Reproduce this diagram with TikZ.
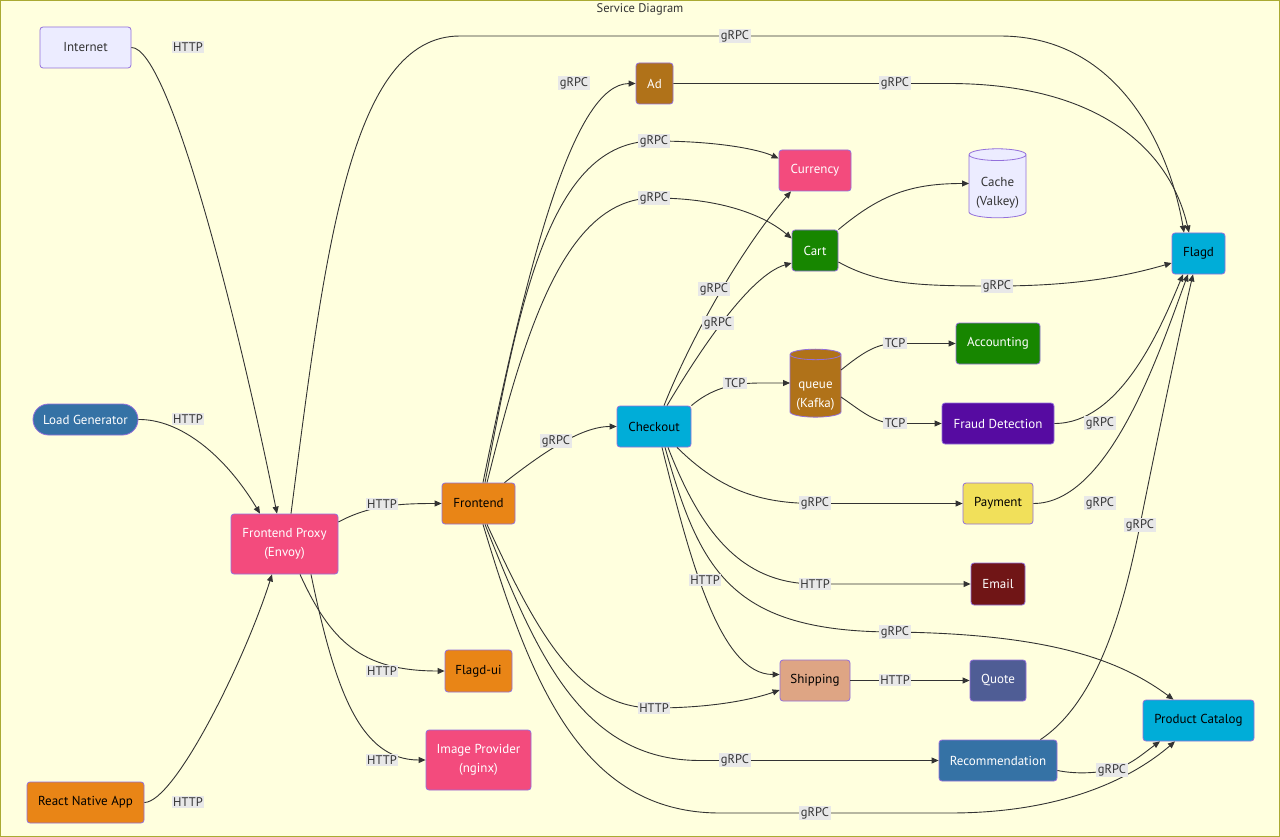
\documentclass[tikz,border=0pt]{standalone}
\usepackage{fontspec}
\setmainfont{PT Sans}
\usetikzlibrary{shapes.geometric}
\usetikzlibrary{arrows.meta}
\definecolor{BG}{HTML}{FFFFDE}
\definecolor{FRAME}{HTML}{AAAA33}
\definecolor{STROKE}{HTML}{9370DB}
\definecolor{LINE}{HTML}{333333}
\definecolor{LABEL}{HTML}{E8E8E8}
\definecolor{LAVENDER}{HTML}{ECECFF}
\definecolor{PYBLUE}{HTML}{3572A5}
\definecolor{TSORANGE}{HTML}{E98516}
\definecolor{CPPPINK}{HTML}{F34B7D}
\definecolor{JAVABROWN}{HTML}{B07219}
\definecolor{NETGREEN}{HTML}{178600}
\definecolor{GOCYAN}{HTML}{00ADD8}
\definecolor{KTPURPLE}{HTML}{560BA1}
\definecolor{JSYELLOW}{HTML}{F1E05A}
\definecolor{RBRED}{HTML}{701516}
\definecolor{RSTAN}{HTML}{DEA584}
\definecolor{PHPINDIGO}{HTML}{4F5D95}

\begin{document}
\begin{tikzpicture}[x=1pt, y=-1pt,
    svc/.style={draw=STROKE, line width=0.8pt, rounded corners=3pt, inner sep=2pt, align=center, text=black, font=\fontsize{13}{19}\selectfont},
    db/.style={draw=STROKE, line width=0.8pt, cylinder, shape border rotate=90, aspect=0.25, inner sep=2pt, align=center, font=\fontsize{13}{19}\selectfont},
    lbl/.style={fill=LABEL, text=LINE, inner sep=1.5pt, font=\fontsize{12.5}{14}\selectfont},
    link/.style={LINE, line width=0.9pt, -{Triangle[length=7pt, width=6pt]}}]
    \useasboundingbox (0,0) rectangle (1280,837);
    \draw[FRAME, fill=BG] (0.5,0.5) rectangle (1279.5,836.5);
    \node[text=LINE, font=\fontsize{12.5}{14}\selectfont] (title) at (640,9) {Service Diagram};

    \node[svc, fill=LAVENDER, text=LINE, minimum width=91pt, minimum height=41pt] (inet) at (85.5,47.5) {Internet};
    \node[svc, fill=PYBLUE, text=white, rounded corners=15.5pt, minimum width=105pt, minimum height=31pt] (lg) at (85.5,419.5) {Load Generator};
    \node[svc, fill=TSORANGE, minimum width=117pt, minimum height=41pt] (rn) at (85.5,802.5) {React Native App};
    \node[svc, fill=CPPPINK, text=white, minimum width=107pt, minimum height=60pt] (prx) at (284.5,544) {Frontend Proxy\\(Envoy)};
    \node[svc, fill=TSORANGE, minimum width=73pt, minimum height=41pt] (fe) at (478.5,503.5) {Frontend};
    \node[svc, fill=TSORANGE, minimum width=67pt, minimum height=42pt] (fui) at (478.5,671) {Flagd-ui};
    \node[svc, fill=CPPPINK, text=white, minimum width=105pt, minimum height=60pt] (img) at (478.5,760) {Image Provider\\(nginx)};
    \node[svc, fill=JAVABROWN, text=white, minimum width=37pt, minimum height=41pt] (ad) at (654.5,83.5) {Ad};
    \node[svc, fill=CPPPINK, text=white, minimum width=72pt, minimum height=41pt] (cur) at (815,170.5) {Currency};
    \node[svc, fill=NETGREEN, text=white, minimum width=46pt, minimum height=41pt] (cart) at (815,250.5) {Cart};
    \node[db, fill=LAVENDER, text=LINE, minimum width=57pt, minimum height=69pt] (cache) at (997.5,187.5)
        {\raisebox{-4.5pt}[\height][\depth]{\begin{tabular}{@{}c@{}}Cache\\(Valkey)\end{tabular}}};
    \node[svc, fill=GOCYAN, minimum width=74pt, minimum height=41pt] (co) at (654,426.5) {Checkout};
    \node[db, fill=JAVABROWN, text=white, minimum width=51pt, minimum height=68pt] (kq) at (815.5,387)
        {\raisebox{-7pt}[\height][\depth]{\begin{tabular}{@{}c@{}}queue\\(Kafka)\end{tabular}}};
    \node[svc, fill=NETGREEN, text=white, minimum width=84pt, minimum height=41pt] (acc) at (998,343.5) {Accounting};
    \node[svc, fill=KTPURPLE, text=white, minimum width=112pt, minimum height=41pt] (fraud) at (998,423.5) {Fraud Detection};
    \node[svc, fill=JSYELLOW, minimum width=70pt, minimum height=41pt] (pay) at (998,503.5) {Payment};
    \node[svc, fill=RBRED, text=white, minimum width=54pt, minimum height=42pt] (mail) at (998,584) {Email};
    \node[svc, fill=RSTAN, minimum width=70pt, minimum height=41pt] (ship) at (815,680.5) {Shipping};
    \node[svc, fill=PHPINDIGO, text=white, minimum width=56pt, minimum height=41pt] (quote) at (998,680.5) {Quote};
    \node[svc, fill=PYBLUE, text=white, minimum width=118pt, minimum height=41pt] (rec) at (998,760.5) {Recommendation};
    \node[svc, fill=GOCYAN, minimum width=111pt, minimum height=41pt] (pc) at (1198.5,720.5) {Product Catalog};
    \node[svc, fill=GOCYAN, minimum width=53pt, minimum height=41pt] (flagd) at (1198.5,253.5) {Flagd};

    \draw[link] (inet.east) .. controls (170,47) and (240,330) .. ([xshift=-7.5pt]prx.north);
    \draw[link] (lg.east) .. controls (180,419) and (225,455) .. ([xshift=-24.5pt]prx.north);
    \draw[link] (rn.east) .. controls (175,802) and (245,660) .. ([xshift=-12.5pt]prx.south);
    \draw[link] ([xshift=6.5pt]prx.north) .. controls (325,250) and (350,36) .. (460,36) -- (1000,36) .. controls (1120,36) and (1170,150) .. ([xshift=-14.5pt]flagd.north);
    \draw[link] ([yshift=22pt]prx.east) .. controls (370,505) and (400,503.5) .. (fe.west);
    \draw[link] ([xshift=15.5pt]prx.south) .. controls (330,640) and (360,671) .. (fui.west);
    \draw[link] ([xshift=26.5pt]prx.south) .. controls (335,690) and (360,760) .. (img.west);

    \draw[link] ([xshift=4.5pt]fe.north) .. controls (530,250) and (575,84) .. (ad.west);
    \draw[link] ([xshift=6.5pt]fe.north) .. controls (520,300) and (550,141) .. (654,141) .. controls (720,141) and (760,150) .. ([yshift=12pt]cur.west);
    \draw[link] ([xshift=8.5pt]fe.north) .. controls (525,330) and (565,198) .. (654,198) .. controls (730,198) and (770,220) .. ([yshift=12pt]cart.west);
    \draw[link] ([xshift=26pt]fe.north) .. controls (540,455) and (580,426.5) .. (co.west);
    \draw[link] ([xshift=8.5pt]fe.south) .. controls (540,640) and (580,708) .. (654,708) .. controls (720,708) and (760,697) .. ([yshift=-9.5pt]ship.west);
    \draw[link] ([xshift=6.5pt]fe.south) .. controls (535,650) and (580,760.5) .. (700,760.5) -- (rec.west);
    \draw[link] ([xshift=4.5pt]fe.south) .. controls (530,680) and (580,813) .. (720,813) -- (950,813) .. controls (1060,813) and (1130,780) .. ([xshift=-23.5pt]pc.south);

    \draw[link] ([xshift=10pt]co.north) .. controls (690,340) and (740,250) .. ([xshift=-24pt]cur.south);
    \draw[link] ([xshift=13pt]co.north) .. controls (700,350) and (750,275) .. ([yshift=-12.5pt]cart.west);
    \draw[link] (co.north east) .. controls (710,390) and (730,383) .. (760,383) -- ([xshift=-25.5pt, yshift=4pt]kq.center);
    \draw[link] ([xshift=23pt]co.south) .. controls (720,490) and (760,503.5) .. (815,503.5) -- (pay.west);
    \draw[link] ([xshift=14pt]co.south) .. controls (700,530) and (740,584) .. (815,584) -- (mail.west);
    \draw[link] ([xshift=11pt]co.south) .. controls (700,570) and (730,632) .. (895,632) .. controls (1050,634) and (1120,660) .. ([xshift=-25pt]pc.north);
    \draw[link] ([xshift=8pt]co.south) .. controls (690,560) and (720,674.5) .. ([yshift=6pt]ship.west);

    \draw[link] ([xshift=25.5pt, yshift=17pt]kq.center) .. controls (860,355) and (875,343.5) .. (895,343.5) -- (acc.west);
    \draw[link] ([xshift=25.5pt, yshift=-10pt]kq.center) .. controls (860,410) and (875,423.5) .. (895,423.5) -- (fraud.west);
    \draw[link] (cart.north east) .. controls (880,195) and (910,183.5) .. ([xshift=-28.5pt, yshift=4pt]cache.center);
    \draw[link] ([yshift=-11.5pt]cart.east) .. controls (880,285) and (920,286) .. (997,286) .. controls (1080,286) and (1130,275) .. ([yshift=-9.5pt]flagd.west);
    \draw[link] (ad.east) -- (950,83.5) .. controls (1100,84) and (1170,150) .. ([xshift=-9.5pt]flagd.north);
    \draw[link] (fraud.east) .. controls (1120,423.5) and (1160,330) .. ([xshift=-15.5pt]flagd.south);
    \draw[link] (pay.east) .. controls (1110,503.5) and (1160,350) .. ([xshift=-10.5pt]flagd.south);
    \draw[link] ([xshift=-17pt]rec.north east) .. controls (1100,700) and (1125,600) .. (1140,525) .. controls (1155,450) and (1180,330) .. ([xshift=-5.5pt]flagd.south);
    \draw[link] ([yshift=-10pt]rec.east) .. controls (1080,775) and (1100,772) .. (1112,770) .. controls (1130,766) and (1145,752) .. ([xshift=-38.5pt]pc.south);
    \draw[link] (ship.east) -- (quote.west);

    \foreach \n/\x/\y/\t in {l1/188/47/HTTP, l2/188/419/HTTP, l3/188/802/HTTP, l4/735/36/gRPC,
        l5/382/504/HTTP, l6/382/671/HTTP, l7/382/760/HTTP, l8/574/83/gRPC, l9/654/141/gRPC,
        l10/654/198/gRPC, l11/556/441/gRPC, l12/654/708/HTTP, l13/735/760/gRPC, l14/815/813/gRPC,
        l15/895/83/gRPC, l16/997/286/gRPC, l17/714/289/gRPC, l18/718/323/gRPC, l19/735/383/TCP,
        l20/815/503/gRPC, l21/815/584/HTTP, l22/895/632/gRPC, l23/705/580/HTTP, l24/895/343/TCP,
        l25/895/423/TCP, l26/1100/423/gRPC, l27/1100/503/gRPC, l28/1140/525/gRPC, l29/1112/770/gRPC,
        l30/895/680/HTTP}
        \node[lbl] (\n) at (\x,\y) {\t};
\end{tikzpicture}
\end{document}
